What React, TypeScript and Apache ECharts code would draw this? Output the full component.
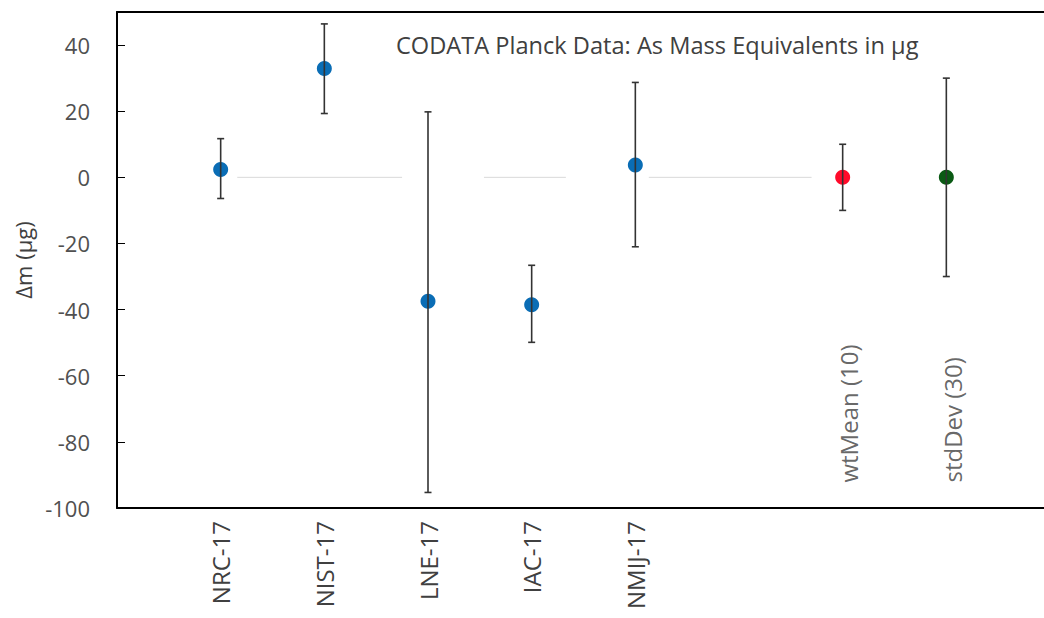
import React, { useEffect, useRef } from "react";
import * as echarts from "echarts";

const labs = ["NRC-17", "NIST-17", "LNE-17", "IAC-17", "NMIJ-17"];
const xPos = [1, 2, 3, 4, 5, 7, 8];
const values = [2.4, 32.9, -37.5, -38.5, 3.7, 0, 0];
const upper = [11.7, 46.4, 19.8, -26.6, 28.7, 10, 30];
const lower = [-6.4, 19.3, -95.3, -49.9, -21, -10, -30];
const colors = ["#0a6db5", "#0a6db5", "#0a6db5", "#0a6db5", "#0a6db5", "#ff0a2a", "#0a5a14"];
const innerLabels = ["wtMean (10)", "stdDev (30)"];
const innerLabelX = [7, 8];
const innerLabelY = [-92.3, -92.3];
const zeroLine: (number | string)[][] = [
  [1.16, 0], [2.75, 0], [3, "-"], [3.54, 0], [4.33, 0], [4.6, "-"], [5.13, 0], [6.7, 0],
];
const yTicks = { min: -100, max: 50, interval: 20 };

export default function App() {
  const ref = useRef<HTMLDivElement>(null);
  useEffect(() => {
    const chart = echarts.init(ref.current!, null, { renderer: "svg" });
    const font = "'Open Sans', sans-serif";
    const errData = xPos.map((x, i) => [x, lower[i], upper[i]]);
    chart.setOption({
      animation: false,
      backgroundColor: "#ffffff",
      title: {
        text: "CODATA Planck Data: As Mass Equivalents in µg",
        left: 391,
        top: 28,
        textStyle: { fontFamily: font, fontSize: 23.6, fontWeight: "normal", color: "#404040" },
      },
      grid: {
        left: 117,
        top: 12,
        width: 933,
        height: 496,
        outerBoundsMode: "none",
        containLabel: false,
        show: false,
      },
      xAxis: [
        {
          type: "value",
          min: 0,
          max: 9,
          interval: 1,
          splitLine: { show: false },
          axisTick: { show: false },
          axisLine: { show: true, onZero: false, lineStyle: { color: "#000", width: 2 } },
          axisLabel: {
            rotate: 90,
            margin: 13,
            fontFamily: font,
            fontSize: 24,
            color: "#404040",
            formatter: (v: number) => labs[v - 1] || "",
          },
        },
        {
          type: "value",
          position: "top",
          min: 0,
          max: 9,
          interval: 1,
          splitLine: { show: false },
          axisTick: { show: false },
          axisLabel: { show: false },
          axisLine: { show: true, onZero: false, lineStyle: { color: "#000", width: 2 } },
        },
      ],
      yAxis: {
        type: "value",
        min: yTicks.min,
        max: yTicks.max,
        interval: yTicks.interval,
        name: "Δm (µg)",
        nameLocation: "middle",
        nameGap: 80,
        nameTextStyle: { fontFamily: font, fontSize: 22, color: "#404040" },
        splitLine: { show: false },
        axisTick: { show: true, inside: true, length: 8, lineStyle: { color: "#000", width: 1 } },
        axisLine: { show: true, lineStyle: { color: "#000", width: 2 } },
        axisLabel: {
          margin: 27,
          fontFamily: font,
          fontSize: 22,
          color: "#505050",
          showMaxLabel: false,
        },
      },
      series: [
        {
          type: "line",
          data: zeroLine,
          symbol: "none",
          lineStyle: { color: "#d9d9d9", width: 1 },
          z: 1,
        },
        {
          type: "scatter",
          data: xPos.map((x, i) => ({ value: [x, values[i]], itemStyle: { color: colors[i], opacity: 1 } })),
          symbolSize: 15,
          z: 3,
        },
        {
          type: "custom",
          z: 4,
          data: errData,
          renderItem: (params: any, api: any) => {
            const x = api.value(0);
            const lo = api.coord([x, api.value(1)]);
            const hi = api.coord([x, api.value(2)]);
            const cap = 3.5;
            const st = { stroke: "#333333", lineWidth: 1.6 };
            return {
              type: "group",
              children: [
                { type: "line", shape: { x1: lo[0], y1: lo[1], x2: hi[0], y2: hi[1] }, style: st },
                { type: "line", shape: { x1: lo[0] - cap, y1: lo[1], x2: lo[0] + cap, y2: lo[1] }, style: st },
                { type: "line", shape: { x1: hi[0] - cap, y1: hi[1], x2: hi[0] + cap, y2: hi[1] }, style: st },
              ],
            };
          },
        },
        {
          type: "scatter",
          data: innerLabelX.map((x, i) => ({ value: [x, innerLabelY[i]], name: innerLabels[i] })),
          symbolSize: 0,
          itemStyle: { color: "transparent" },
          label: {
            show: true,
            position: "inside",
            offset: [0, 6],
            rotate: 90,
            align: "left",
            verticalAlign: "middle",
            formatter: (p: any) => p.name,
            fontFamily: font,
            fontSize: 24,
            color: "#404040",
          },
        },
      ],
    });
    return () => chart.dispose();
  }, []);
  return (
    <div
      ref={ref}
      style={{ position: "fixed", left: 0, top: 0, width: 1044, height: 618, background: "#fff" }}
    />
  );
}
